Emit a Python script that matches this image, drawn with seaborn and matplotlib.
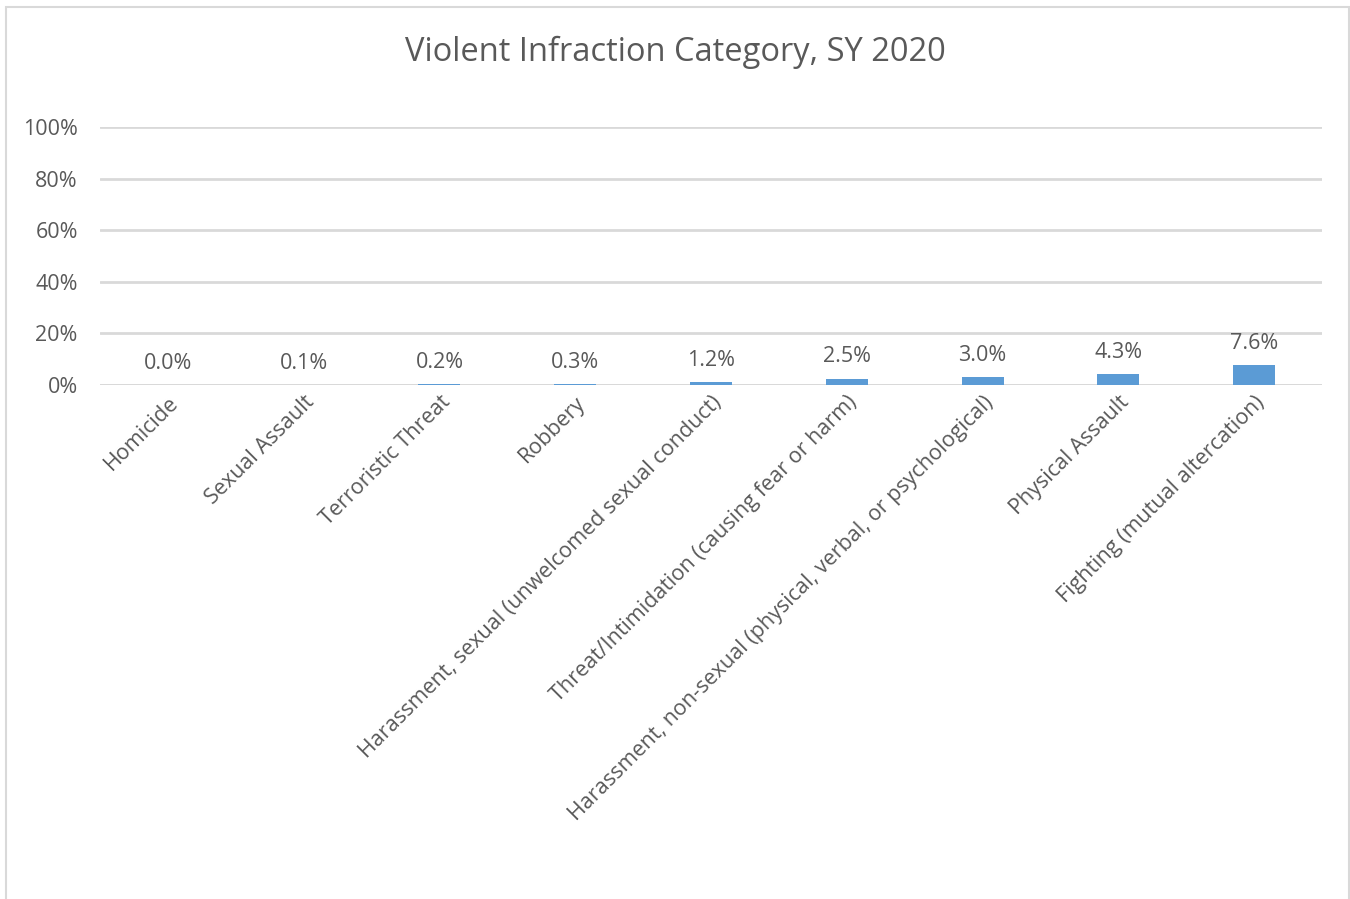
import matplotlib
matplotlib.use("Agg")
import matplotlib.pyplot as plt
import matplotlib.patches as mpatches
from matplotlib.ticker import PercentFormatter
import pandas as pd
import seaborn as sns

TITLE = "Violent Infraction Category, SY 2020"
CATEGORIES = [
    "Homicide",
    "Sexual Assault",
    "Terroristic Threat",
    "Robbery",
    "Harassment, sexual (unwelcomed sexual conduct)",
    "Threat/Intimidation (causing fear or harm)",
    "Harassment, non-sexual (physical, verbal, or psychological)",
    "Physical Assault",
    "Fighting (mutual altercation)",
]
SHARES = [0.000, 0.001, 0.002, 0.003, 0.012, 0.025, 0.030, 0.043, 0.076]
Y_TICKS = [0, 0.2, 0.4, 0.6, 0.8, 1.0]

BAR_COLOR = "#5B9BD5"
GRID_COLOR = "#D9D9D9"
TEXT_COLOR = "#595959"
FS = 15.5

sns.set_theme(style="white")
plt.rcParams["font.family"] = ["Open Sans", "DejaVu Sans"]

df = pd.DataFrame({"category": CATEGORIES, "share": SHARES})

fig = plt.figure(figsize=(13.5, 8.99), dpi=100)
ax = fig.add_axes([100 / 1350, 1 - 385 / 899, 1222 / 1350, 258 / 899])

sns.barplot(data=df, x="category", y="share", color=BAR_COLOR, width=0.31,
            saturation=1, linewidth=0, ax=ax, zorder=3)

ax.set_xlim(-0.5, len(CATEGORIES) - 0.5)
ax.set_ylim(0, 1)
ax.set_yticks(Y_TICKS)
ax.yaxis.set_major_formatter(PercentFormatter(1.0, decimals=0))
ax.grid(axis="y", color=GRID_COLOR, linewidth=2, zorder=0)
ax.grid(axis="x", visible=False)
for side in ["top", "right", "left", "bottom"]:
    ax.spines[side].set_visible(False)
ax.axhline(0, color=GRID_COLOR, linewidth=2, zorder=2)
ax.set_xlabel("")
ax.set_ylabel("")
ax.tick_params(axis="y", length=0, pad=16, labelsize=FS, labelcolor=TEXT_COLOR)
ax.tick_params(axis="x", length=0, pad=5, labelsize=FS, labelcolor=TEXT_COLOR)
ax.set_xticks(range(len(CATEGORIES)))
ax.set_xticklabels(CATEGORIES, rotation=45, ha="right", rotation_mode="anchor")

for i, v in enumerate(SHARES):
    ax.annotate(f"{v * 100:.1f}%", (i, v), xytext=(0, 8), textcoords="offset points",
                ha="center", va="bottom", fontsize=FS, color=TEXT_COLOR)

fig.text(0.5, 1 - 52 / 899, TITLE, ha="center", va="center", fontsize=23.5, color=TEXT_COLOR)

frame = mpatches.Rectangle((6 / 1350, -0.05), 1343 / 1350, 1 - 7 / 899 + 0.05,
                           transform=fig.transFigure, fill=False,
                           edgecolor=GRID_COLOR, linewidth=1.5)
fig.patches.append(frame)

fig.savefig("out.png", dpi=100, facecolor="white")
